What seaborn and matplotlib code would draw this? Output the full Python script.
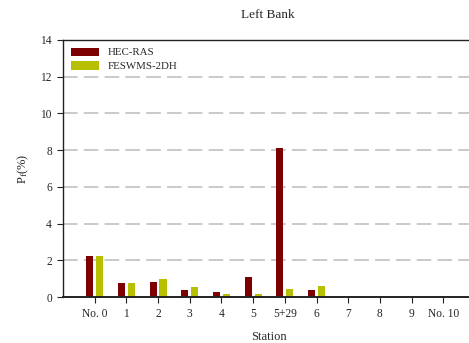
import matplotlib
matplotlib.use("Agg")
import matplotlib.pyplot as plt
import seaborn as sns
import pandas as pd

stations = ["No. 0", "1", "2", "3", "4", "5", "5+29", "6", "7", "8", "9", "No. 10"]
hec_ras = [2.25, 0.78, 0.83, 0.40, 0.26, 1.10, 8.10, 0.40, 0.0, 0.0, 0.0, 0.0]
feswms = [2.25, 0.78, 1.00, 0.55, 0.15, 0.15, 0.45, 0.60, 0.0, 0.0, 0.0, 0.0]
models = ["HEC-RAS", "FESWMS-2DH"]
colors = ["#7d0000", "#b6c000"]

df = pd.DataFrame({
    "Station": stations * 2,
    "Pf": hec_ras + feswms,
    "Model": [models[0]] * len(stations) + [models[1]] * len(stations),
})

sns.set_style("white")
plt.rcParams["font.family"] = ["Liberation Serif", "DejaVu Serif"]
plt.rcParams["mathtext.fontset"] = "custom"
plt.rcParams["mathtext.rm"] = "Liberation Serif"
plt.rcParams["mathtext.it"] = "Liberation Serif:italic"

fig = plt.figure(figsize=(4.69, 3.43), dpi=100)
ax = fig.add_axes([63 / 469, 1 - 297 / 343, 412 / 469, 257 / 343])

sns.barplot(data=df, x="Station", y="Pf", hue="Model", order=stations,
            hue_order=models, palette=colors, width=0.62, gap=0.28,
            saturation=1, linewidth=0, ax=ax, zorder=3)

ax.set_ylim(0, 14)
ax.set_yticks(range(0, 15, 2))
ax.set_xlim(-1, 12)
for y in range(2, 14, 2):
    ax.axhline(y, color="#cacaca", lw=1.4, dashes=(7.5, 3.2), zorder=1)

ax.spines["right"].set_visible(False)
for side in ("left", "bottom", "top"):
    ax.spines[side].set_color("#222222")
    ax.spines[side].set_linewidth(1.0)
ax.spines["bottom"].set_linewidth(1.4)
ax.spines["bottom"].set_zorder(4)

ax.tick_params(axis="both", direction="out", length=4, width=0.8,
               color="#222222", labelsize=8.3, pad=4, bottom=True, left=True)
ax.set_xlabel("Station", fontsize=9, labelpad=8)
ax.set_ylabel(r"P$_\mathregular{f}$(%)", fontsize=9, labelpad=7)
fig.text(268 / 469, 1 - 15 / 343, "Left Bank", fontsize=9.5, ha="center", va="center")

leg = ax.legend(loc="upper left", frameon=False, fontsize=7.8,
                handlelength=2.6, handleheight=0.8, labelspacing=0.35,
                borderaxespad=0.3, bbox_to_anchor=(0.0, 1.0))

fig.savefig("out.png", dpi=100)
